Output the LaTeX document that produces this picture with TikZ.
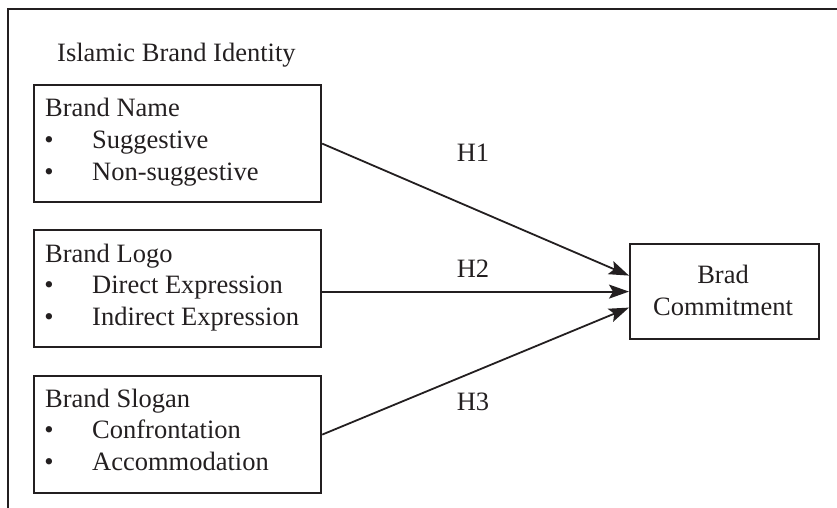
\documentclass[tikz,border=0pt]{standalone}
\usepackage{fontspec}
\setmainfont{Liberation Serif}
\usetikzlibrary{arrows.meta}
\definecolor{ink}{HTML}{231F20}
\begin{document}
\begin{tikzpicture}[x=1pt,y=-1pt,
  every node/.style={font=\fontsize{26.5}{31.5}\selectfont, text=ink, inner sep=0pt},
  boxstyle/.style={draw=ink, line width=2.2pt, minimum width=287pt, minimum height=117pt, anchor=north west},
  txt/.style={anchor=base west},
  bul/.style={anchor=base},
  conn/.style={draw=ink, line width=1.8pt, -{Stealth[length=20pt,width=14pt,inset=4pt]}}]
\useasboundingbox (0,0) rectangle (837,508);
% outer frame (top and left edges only)
\draw[ink, line width=2.6pt] (837,9) -- (8,9) -- (8,508);
\node[txt] (title) at (57,62) {Islamic Brand Identity};
% boxes
\node[boxstyle] (b1) at (33,84) {};
\node[boxstyle] (b2) at (33,229) {};
\node[boxstyle] (b3) at (33,375) {};
\node[draw=ink, line width=2.2pt, minimum width=189pt, minimum height=95pt, anchor=north west] (bc) at (629,243) {};
% box 1 text
\node[txt] (n1) at (45,117) {Brand Name};
\node[bul] (n1a) at (49,148.5) {•};
\node[txt] (n1b) at (92,148.5) {Suggestive};
\node[bul] (n1c) at (49,180) {•};
\node[txt] (n1d) at (92,180) {Non-suggestive};
% box 2 text
\node[txt] (n2) at (45,262) {Brand Logo};
\node[bul] (n2a) at (49,293.5) {•};
\node[txt] (n2b) at (92,293.5) {Direct Expression};
\node[bul] (n2c) at (49,325) {•};
\node[txt] (n2d) at (92,325) {Indirect Expression};
% box 3 text
\node[txt] (n3) at (45,407) {Brand Slogan};
\node[bul] (n3a) at (49,438.5) {•};
\node[txt] (n3b) at (92,438.5) {Confrontation};
\node[bul] (n3c) at (49,470) {•};
\node[txt] (n3d) at (92,470) {Accommodation};
% target text
\node[anchor=base] (c1) at (723,283) {Brad};
\node[anchor=base] (c2) at (723,315) {Commitment};
% connectors
\draw[conn] (b1.east) -- ([yshift=16pt]bc.west);
\draw[conn] (b2.east |- bc.west) -- (bc.west);
\draw[conn] (b3.east) -- ([yshift=-16pt]bc.west);
% labels
\node[anchor=base] (h1) at (473,161) {H1};
\node[anchor=base] (h2) at (473,277) {H2};
\node[anchor=base] (h3) at (473,410) {H3};
\end{tikzpicture}
\end{document}
